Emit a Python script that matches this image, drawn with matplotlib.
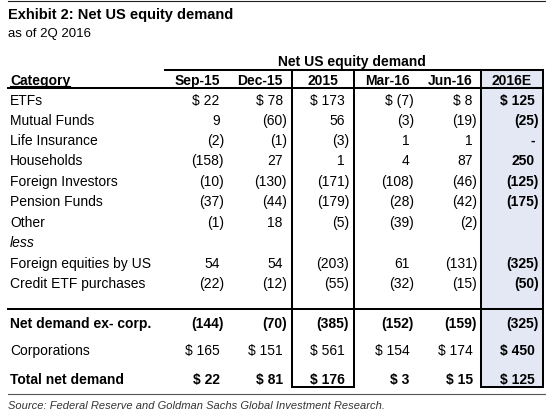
"""Net US equity demand table (Exhibit 2) drawn with matplotlib."""

import matplotlib

matplotlib.use("Agg")

import matplotlib.pyplot as plt
from matplotlib.patches import Rectangle


CATEGORIES = [
    "ETFs",
    "Mutual Funds",
    "Life Insurance",
    "Households",
    "Foreign Investors",
    "Pension Funds",
    "Other",
    "less",
    "Foreign equities by US",
    "Credit ETF purchases",
]
TOTAL_ROWS = ["Net demand ex- corp.", "Corporations", "Total net demand"]
PERIODS = ["Sep-15", "Dec-15", "2015", "Mar-16", "Jun-16", "2016E"]

# None = empty cell
SEP_15 = [22, 9, -2, -158, -10, -37, -1, None, 54, -22, -144, 165, 22]
DEC_15 = [78, -60, -1, 27, -130, -44, 18, None, 54, -12, -70, 151, 81]
Y_2015 = [173, 56, -3, 1, -171, -179, -5, None, -203, -55, -385, 561, 176]
MAR_16 = [-7, -3, 1, 4, -108, -28, -39, None, 61, -32, -152, 154, 3]
JUN_16 = [8, -19, 1, 87, -46, -42, -2, None, -131, -15, -159, 174, 15]
E_2016 = [125, -25, 0, 250, -125, -175, None, None, -325, -50, -325, 450, 125]

DOLLAR_ROWS = ["ETFs", "Corporations", "Total net demand"]
BOLD_ROWS = ["Net demand ex- corp.", "Total net demand"]

TITLE = "Exhibit 2: Net US equity demand"
SUBTITLE = "as of 2Q 2016"
GROUP_HEADER = "Net US equity demand"
SOURCE = "Source: Federal Reserve and Goldman Sachs Global Investment Research."

SHADE = "#E4E8F4"
LW = 1.45  # ~2px

plt.rcParams["font.family"] = ["Liberation Sans", "DejaVu Sans"]


def fmt(value, dollar):
    if value is None:
        return ""
    if value == 0:
        return "-"
    body = f"({abs(value)})" if value < 0 else f"{value}"
    return f"$ {body}" if dollar else body


fig = plt.figure(figsize=(5.5, 4.12), dpi=100)
ax = fig.add_axes([0, 0, 1, 1])
ax.set_xlim(0, 550)
ax.set_ylim(412, 0)
ax.axis("off")

# column right edges (for the closing parenthesis) and boxed columns
col_right = [224, 287, 349, 414, 477, 539]
boxes = {2: (292, 354), 5: (481, 543)}
box_top, box_bottom = 70, 387

# shaded 2016E column
x0, x1 = boxes[5]
ax.add_patch(Rectangle((x0, box_top), x1 - x0, box_bottom - box_top,
                       facecolor=SHADE, edgecolor="none", zorder=0))

# titles
ax.plot([8, 545], [1, 1], color="#222222", lw=0.8)
ax.text(8, 19, TITLE, fontsize=10.5, fontweight="bold", va="baseline")
ax.text(8, 37, SUBTITLE, fontsize=9.5, va="baseline")
ax.text(352, 66, GROUP_HEADER, fontsize=10, fontweight="bold", ha="center", va="baseline")

# rules
ax.plot([165, 543], [70, 70], color="black", lw=LW)
ax.plot([8, 543], [88, 88], color="black", lw=LW)
ax.plot([8, 543], [309, 309], color="black", lw=LW)
for left, right in boxes.values():
    ax.add_patch(Rectangle((left, box_top), right - left, box_bottom - box_top,
                           facecolor="none", edgecolor="black", lw=LW, zorder=3))
ax.plot([8, 545], [394, 394], color="#555555", lw=0.8)

# header row
ax.text(10, 84.5, "Category", fontsize=10, fontweight="bold", va="baseline")
ax.plot([10, 70], [86.3, 86.3], color="black", lw=0.8)
for i, period in enumerate(PERIODS):
    if i in boxes:
        left, right = boxes[i]
        ax.text((left + right) / 2, 84.5, period, fontsize=10, fontweight="bold",
                ha="center", va="baseline")
    else:
        ax.text(col_right[i] - 4, 84.5, period, fontsize=10, fontweight="bold",
                ha="right", va="baseline")

# body
labels = CATEGORIES + TOTAL_ROWS
row_y = [100, 120, 140, 160.5, 181, 201.5, 222, 242, 263, 283, 323, 350, 379]
columns = [SEP_15, DEC_15, Y_2015, MAR_16, JUN_16, E_2016]

for r, label in enumerate(labels):
    y = row_y[r] + 4.8
    bold_row = label in BOLD_ROWS
    ax.text(10, y, label, fontsize=10, va="baseline",
            fontweight="bold" if bold_row else "normal",
            fontstyle="italic" if label == "less" else "normal")
    for c, col in enumerate(columns):
        s = fmt(col[r], label in DOLLAR_ROWS)
        if not s:
            continue
        x = col_right[c] if s.endswith(")") else col_right[c] - 4.3
        bold = bold_row or c == 5
        ax.text(x, y, s, fontsize=10, ha="right", va="baseline",
                fontweight="bold" if bold else "normal")

ax.text(8, 409, SOURCE, fontsize=8, fontstyle="italic", color="#333333", va="baseline")

fig.savefig("out.png", dpi=100)
